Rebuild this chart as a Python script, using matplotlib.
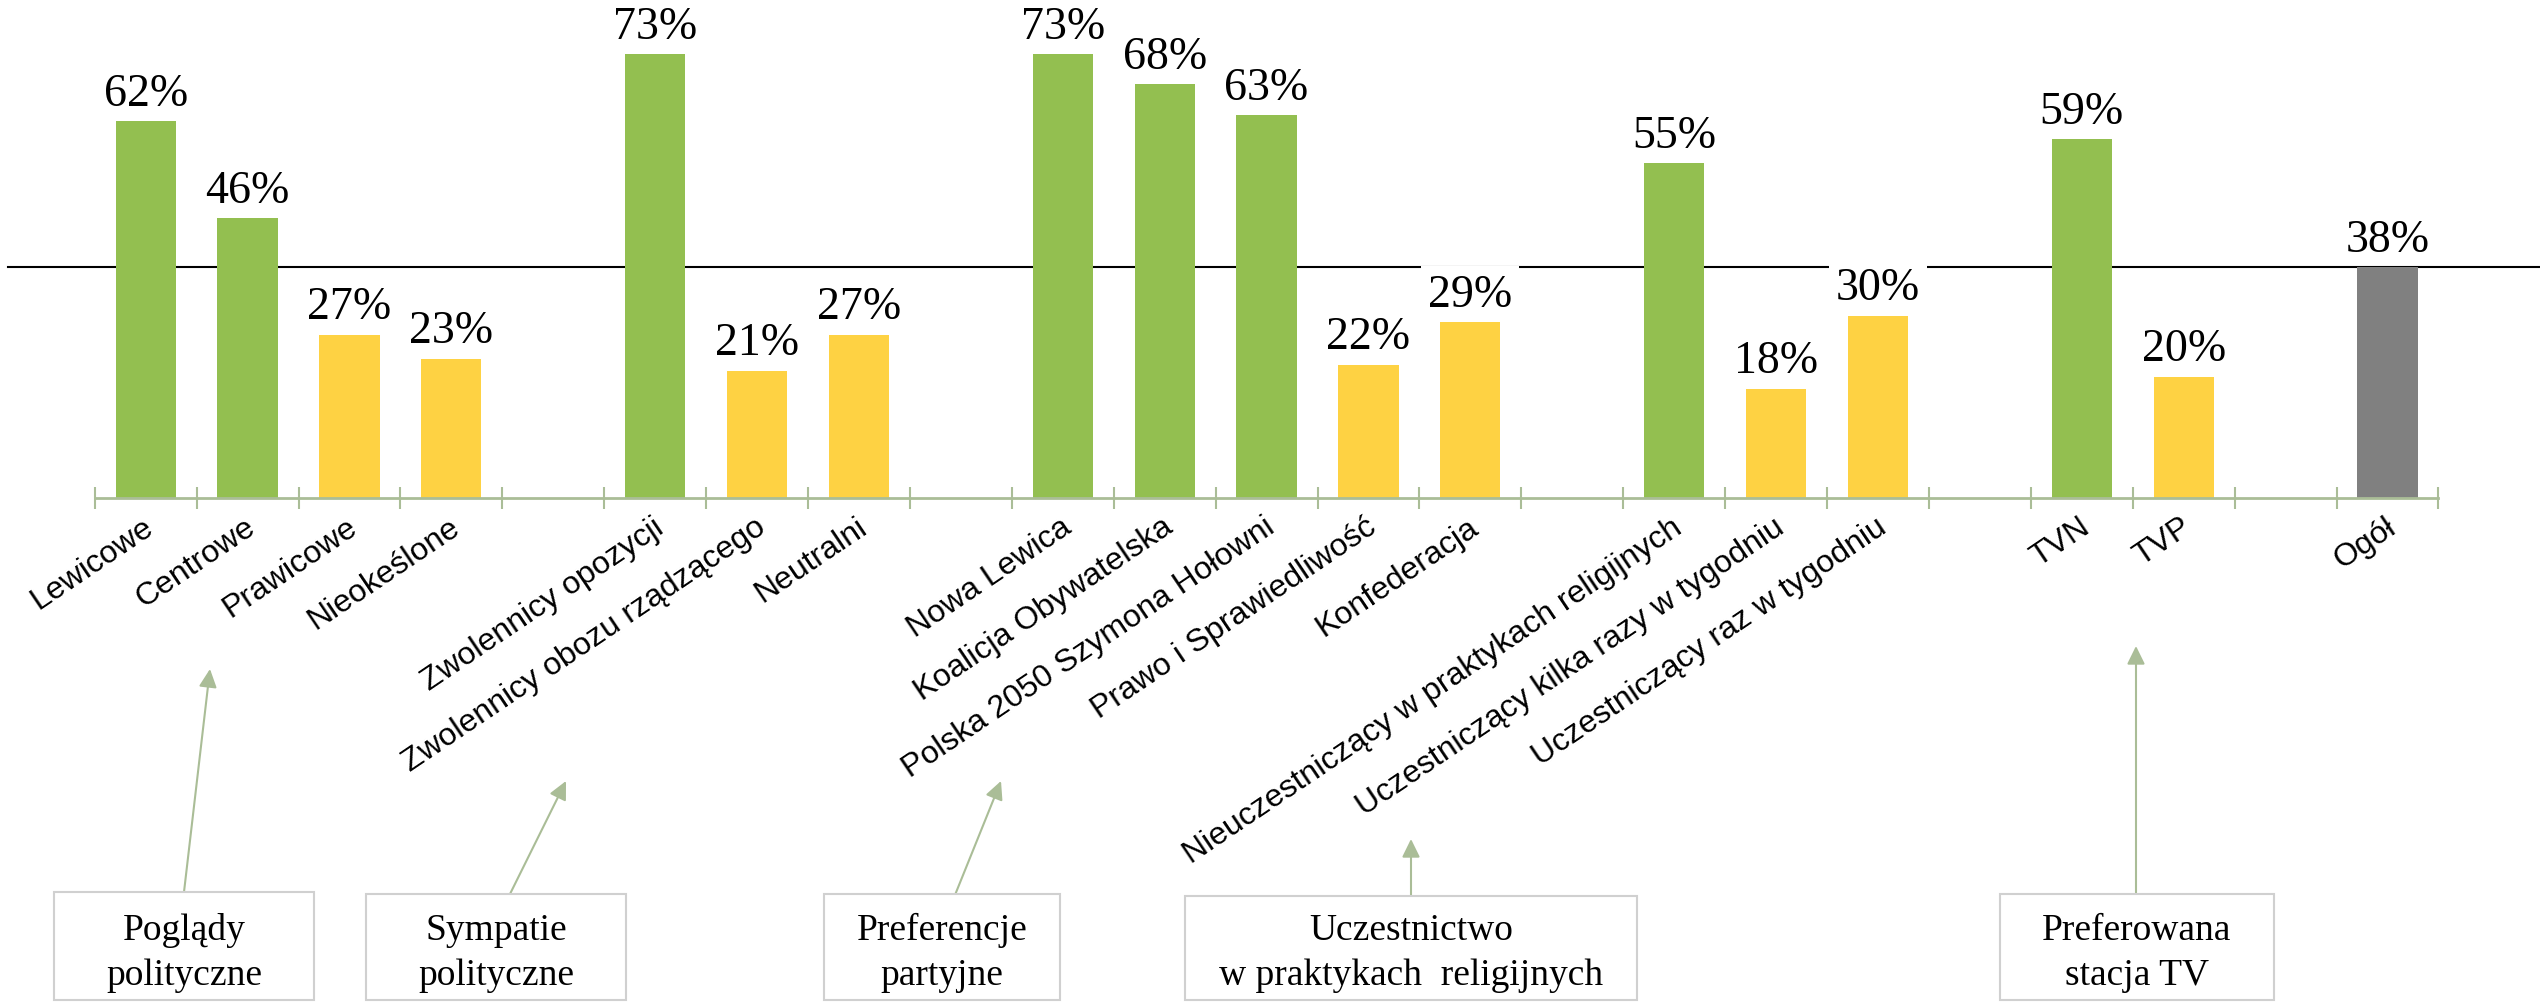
import matplotlib
matplotlib.use("Agg")
import matplotlib.pyplot as plt
from matplotlib.patches import Rectangle
import numpy as np

# Data: groups of categories with share in %
group_labels = [
    ["Lewicowe", "Centrowe", "Prawicowe", "Nieokeślone"],
    ["Zwolennicy opozycji", "Zwolennicy obozu rządzącego", "Neutralni"],
    ["Nowa Lewica", "Koalicja Obywatelska", "Polska 2050 Szymona Hołowni",
     "Prawo i Sprawiedliwość", "Konfederacja"],
    ["Nieuczestniczący w praktykach religijnych",
     "Uczestniczący kilka razy w tygodniu", "Uczestniczący raz w tygodniu"],
    ["TVN", "TVP"],
]
group_values = [
    [62, 46, 27, 23],
    [73, 21, 27],
    [73, 68, 63, 22, 29],
    [55, 18, 30],
    [59, 20],
]
group_titles = [
    "Poglądy\npolityczne",
    "Sympatie\npolityczne",
    "Preferencje\npartyjne",
    "Uczestnictwo\nw praktykach  religijnych",
    "Preferowana\nstacja TV",
]
total_label = "Ogół"
total_value = 38

GREEN = "#93BF50"
YELLOW = "#FED243"
GREY = "#808080"
AXIS_C = "#AABD97"

# slot positions: one empty slot between groups
xs, labels, values = [], [], []
pos = 0
for labs, vals in zip(group_labels, group_values):
    for l, v in zip(labs, vals):
        xs.append(pos); labels.append(l); values.append(v)
        pos += 1
    pos += 1
xs.append(pos); labels.append(total_label); values.append(total_value)
n_slots = pos + 1

colors = [GREEN if v > total_value else YELLOW for v in values[:-1]] + [GREY]

W, H = 2540, 1003
fig = plt.figure(figsize=(W / 100, H / 100), dpi=100)
base_px = 499
ax = fig.add_axes([0, 1 - base_px / H, 1, base_px / H])

slot_px = 101.9
x_left = -0.5 - 94.7 / slot_px
ax.set_xlim(x_left, x_left + W / slot_px)
ax.set_ylim(0, base_px / 6.085)

ax.axhline(total_value, xmin=8 / W, xmax=1, color="black", lw=1.5, zorder=1)
ax.bar(xs, values, width=0.59, color=colors, zorder=2)

for x, v in zip(xs, values):
    # labels sitting under the reference line get a white background
    bb = dict(boxstyle="square,pad=0.15", fc="white", ec="none") if v < total_value else None
    ax.annotate(f"{v}%", (x, v), xytext=(0, 11.5), textcoords="offset points",
                ha="center", va="baseline", fontsize=33, family="Liberation Serif",
                zorder=3, bbox=bb)

# axis line with crossing ticks at slot boundaries
for s in ["top", "left", "right"]:
    ax.spines[s].set_visible(False)
ax.spines["bottom"].set_color(AXIS_C)
ax.spines["bottom"].set_linewidth(2)
ax.spines["bottom"].set_bounds(-0.5, n_slots - 0.5)
ax.set_yticks([])
ax.set_xticks(np.arange(-0.5, n_slots, 1))
ax.set_xticklabels([])
ax.tick_params(axis="x", direction="inout", length=16, width=1.5, color=AXIS_C)

for x, l in zip(xs, labels):
    ax.text(x - 0.03, -2.2, l, rotation=34, rotation_mode="anchor", ha="right", va="top",
            fontsize=23, family="Liberation Sans", clip_on=False)

# group boxes with arrows (pixel coords from top-left)
boxes = [
    (54, 314, 893, (184, 893), (210, 670)),
    (366, 626, 895, (510, 895), (566, 782)),
    (824, 1060, 895, (955, 896), (1001, 782)),
    (1185, 1637, 897, (1411, 897), (1411, 840)),
    (2000, 2274, 895, (2136, 895), (2136, 647)),
]
for (l, r, t, a0, a1), title in zip(boxes, group_titles):
    bottom = 1001
    fig.add_artist(Rectangle((l / W, 1 - bottom / H), (r - l) / W, (bottom - t) / H,
                             transform=fig.transFigure, fc="white", ec="#D0D0D0", lw=1.5))
    l1, l2 = title.split("\n")
    cx = (l + r) / 2 / W
    fig.text(cx, 1 - 940 / H, l1, ha="center", va="baseline", fontsize=27,
             family="Liberation Serif")
    fig.text(cx, 1 - 985 / H, l2, ha="center", va="baseline", fontsize=27,
             family="Liberation Serif")
    ax.annotate("", xy=(a1[0] / W, 1 - a1[1] / H), xycoords="figure fraction",
                xytext=(a0[0] / W, 1 - a0[1] / H), textcoords="figure fraction",
                arrowprops=dict(arrowstyle="-|>,head_length=0.55,head_width=0.27",
                                color=AXIS_C, lw=1.5,
                                mutation_scale=20, shrinkA=0, shrinkB=0))

fig.savefig("out.png", dpi=100)
